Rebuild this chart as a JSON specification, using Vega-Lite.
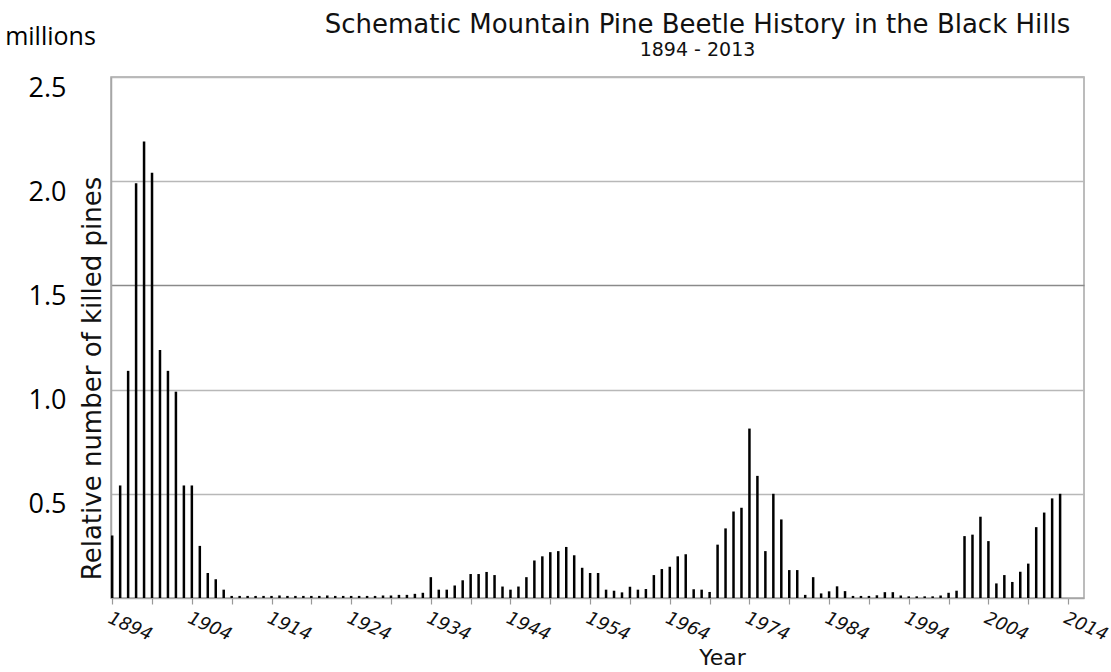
{
  "$schema": "https://vega.github.io/schema/vega-lite/v6.json",
  "width": 973,
  "height": 521,
  "autosize": {"type": "none"},
  "padding": {"left": 111, "top": 77, "right": 27, "bottom": 74},
  "background": "white",
  "title": {
    "text": "Schematic Mountain Pine Beetle History in the Black Hills",
    "subtitle": "1894 - 2013",
    "font": "DejaVu Sans",
    "fontSize": 26,
    "fontWeight": "normal",
    "color": "#111111",
    "subtitleFont": "DejaVu Sans",
    "subtitleFontSize": 19,
    "subtitleColor": "#111111",
    "subtitlePadding": 3,
    "anchor": "middle",
    "frame": "group",
    "dx": 100,
    "dy": 56,
    "offset": 20
  },
  "config": {"view": {"stroke": "#a6a6a6", "strokeWidth": 1.5}},
  "data": {
    "values": [
      {"year": 1894, "killed": 0.30}, {"year": 1895, "killed": 0.54}, {"year": 1896, "killed": 1.09},
      {"year": 1897, "killed": 1.99}, {"year": 1898, "killed": 2.19}, {"year": 1899, "killed": 2.04},
      {"year": 1900, "killed": 1.19}, {"year": 1901, "killed": 1.09}, {"year": 1902, "killed": 0.99},
      {"year": 1903, "killed": 0.54}, {"year": 1904, "killed": 0.54}, {"year": 1905, "killed": 0.25},
      {"year": 1906, "killed": 0.12}, {"year": 1907, "killed": 0.09}, {"year": 1908, "killed": 0.04},
      {"year": 1909, "killed": 0.01}, {"year": 1910, "killed": 0.01}, {"year": 1911, "killed": 0.01},
      {"year": 1912, "killed": 0.01}, {"year": 1913, "killed": 0.01}, {"year": 1914, "killed": 0.01},
      {"year": 1915, "killed": 0.012}, {"year": 1916, "killed": 0.01}, {"year": 1917, "killed": 0.01},
      {"year": 1918, "killed": 0.01}, {"year": 1919, "killed": 0.01}, {"year": 1920, "killed": 0.01},
      {"year": 1921, "killed": 0.012}, {"year": 1922, "killed": 0.01}, {"year": 1923, "killed": 0.01},
      {"year": 1924, "killed": 0.01}, {"year": 1925, "killed": 0.01}, {"year": 1926, "killed": 0.01},
      {"year": 1927, "killed": 0.01}, {"year": 1928, "killed": 0.012}, {"year": 1929, "killed": 0.012},
      {"year": 1930, "killed": 0.015}, {"year": 1931, "killed": 0.015}, {"year": 1932, "killed": 0.02},
      {"year": 1933, "killed": 0.025}, {"year": 1934, "killed": 0.10}, {"year": 1935, "killed": 0.04},
      {"year": 1936, "killed": 0.04}, {"year": 1937, "killed": 0.06}, {"year": 1938, "killed": 0.085},
      {"year": 1939, "killed": 0.115}, {"year": 1940, "killed": 0.115}, {"year": 1941, "killed": 0.125},
      {"year": 1942, "killed": 0.11}, {"year": 1943, "killed": 0.055}, {"year": 1944, "killed": 0.04},
      {"year": 1945, "killed": 0.055}, {"year": 1946, "killed": 0.10}, {"year": 1947, "killed": 0.18},
      {"year": 1948, "killed": 0.20}, {"year": 1949, "killed": 0.22}, {"year": 1950, "killed": 0.225},
      {"year": 1951, "killed": 0.245}, {"year": 1952, "killed": 0.205}, {"year": 1953, "killed": 0.145},
      {"year": 1954, "killed": 0.12}, {"year": 1955, "killed": 0.12}, {"year": 1956, "killed": 0.04},
      {"year": 1957, "killed": 0.035}, {"year": 1958, "killed": 0.027}, {"year": 1959, "killed": 0.054},
      {"year": 1960, "killed": 0.04}, {"year": 1961, "killed": 0.043}, {"year": 1962, "killed": 0.11},
      {"year": 1963, "killed": 0.139}, {"year": 1964, "killed": 0.15}, {"year": 1965, "killed": 0.20},
      {"year": 1966, "killed": 0.21}, {"year": 1967, "killed": 0.042}, {"year": 1968, "killed": 0.04},
      {"year": 1969, "killed": 0.029}, {"year": 1970, "killed": 0.256}, {"year": 1971, "killed": 0.334},
      {"year": 1972, "killed": 0.415}, {"year": 1973, "killed": 0.433}, {"year": 1974, "killed": 0.813},
      {"year": 1975, "killed": 0.586}, {"year": 1976, "killed": 0.225}, {"year": 1977, "killed": 0.50},
      {"year": 1978, "killed": 0.377}, {"year": 1979, "killed": 0.134}, {"year": 1980, "killed": 0.134},
      {"year": 1981, "killed": 0.015}, {"year": 1982, "killed": 0.10}, {"year": 1983, "killed": 0.022},
      {"year": 1984, "killed": 0.032}, {"year": 1985, "killed": 0.056}, {"year": 1986, "killed": 0.033},
      {"year": 1987, "killed": 0.01}, {"year": 1988, "killed": 0.01}, {"year": 1989, "killed": 0.01},
      {"year": 1990, "killed": 0.013}, {"year": 1991, "killed": 0.028}, {"year": 1992, "killed": 0.028},
      {"year": 1993, "killed": 0.012}, {"year": 1994, "killed": 0.008}, {"year": 1995, "killed": 0.008},
      {"year": 1996, "killed": 0.008}, {"year": 1997, "killed": 0.008}, {"year": 1998, "killed": 0.012},
      {"year": 1999, "killed": 0.025}, {"year": 2000, "killed": 0.035}, {"year": 2001, "killed": 0.297},
      {"year": 2002, "killed": 0.304}, {"year": 2003, "killed": 0.39}, {"year": 2004, "killed": 0.273},
      {"year": 2005, "killed": 0.07}, {"year": 2006, "killed": 0.11}, {"year": 2007, "killed": 0.077},
      {"year": 2008, "killed": 0.126}, {"year": 2009, "killed": 0.165}, {"year": 2010, "killed": 0.34},
      {"year": 2011, "killed": 0.41}, {"year": 2012, "killed": 0.478}, {"year": 2013, "killed": 0.50}
    ]
  },
  "layer": [
    {
      "mark": {"type": "rule", "strokeWidth": 2.5, "color": "#000000"},
      "encoding": {
        "x": {
          "field": "year",
          "type": "quantitative",
          "scale": {"domain": [1893.85, 2016], "nice": false, "zero": false},
          "axis": {
            "values": [1894, 1899, 1904, 1909, 1914, 1919, 1924, 1929, 1934, 1939, 1944, 1949, 1954, 1959, 1964, 1969, 1974, 1979, 1984, 1989, 1994, 1999, 2004, 2009, 2014],
            "format": "d",
            "labelExpr": "(datum.value - 1894) % 10 == 0 ? datum.label : ''",
            "labelAngle": 24,
            "labelAlign": "left",
            "labelBaseline": "top",
            "labelFont": "DejaVu Sans",
            "labelFontStyle": "italic",
            "labelFontSize": 18,
            "labelColor": "#111111",
            "labelPadding": 5,
            "labelOverlap": false,
            "labelBound": false,
            "labelFlush": false,
            "tickColor": "#999999",
            "tickSize": 6,
            "tickWidth": 1.2,
            "domainColor": "#a6a6a6",
            "domainWidth": 1.5,
            "grid": false,
            "title": "Year",
            "titleFont": "DejaVu Sans",
            "titleFontSize": 22,
            "titleFontWeight": "normal",
            "titleColor": "#111111",
            "titleX": 611,
            "titleY": 49,
            "titleAlign": "center",
            "titleBaseline": "top"
          }
        },
        "y": {
          "field": "killed",
          "type": "quantitative",
          "scale": {"domain": [0, 2.5], "nice": false},
          "axis": {
            "values": [0.5, 1, 1.5, 2, 2.5],
            "format": ".1f",
            "grid": true,
            "gridColor": {"condition": {"test": "datum.value == 1.5", "value": "#8a8a8a"}, "value": "#b8b8b8"},
            "gridWidth": 1.5,
            "ticks": false,
            "domainColor": "#a6a6a6",
            "domainWidth": 1.5,
            "labelFont": "Open Sans",
            "labelFontSize": 27,
            "labelColor": "#000000",
            "labelPadding": 45,
            "labelOffset": 11,
            "labelBaseline": "middle",
            "labelFlush": false,
            "labelOverlap": false,
            "title": "Relative number of killed pines",
            "titleFont": "DejaVu Sans",
            "titleFontSize": 26,
            "titleFontWeight": "normal",
            "titleColor": "#111111",
            "titleAngle": 270,
            "titleX": -6,
            "titleY": 301,
            "titleAlign": "center",
            "titleBaseline": "bottom"
          }
        },
        "y2": {"datum": 0}
      }
    },
    {
      "mark": {"type": "point", "opacity": 0},
      "encoding": {
        "x": {"field": "year", "type": "quantitative"},
        "y": {
          "field": "killed",
          "type": "quantitative",
          "scale": {"domain": [0, 2.5], "nice": false},
          "axis": {
            "orient": "left",
            "labels": false,
            "ticks": false,
            "domain": false,
            "grid": false,
            "title": "millions",
            "titleAngle": 0,
            "titleX": -61,
            "titleY": -41,
            "titleAlign": "center",
            "titleBaseline": "middle",
            "titleFont": "Open Sans",
            "titleFontSize": 25,
            "titleFontWeight": "normal",
            "titleColor": "#000000"
          }
        }
      }
    }
  ],
  "resolve": {"scale": {"y": "independent"}}
}
